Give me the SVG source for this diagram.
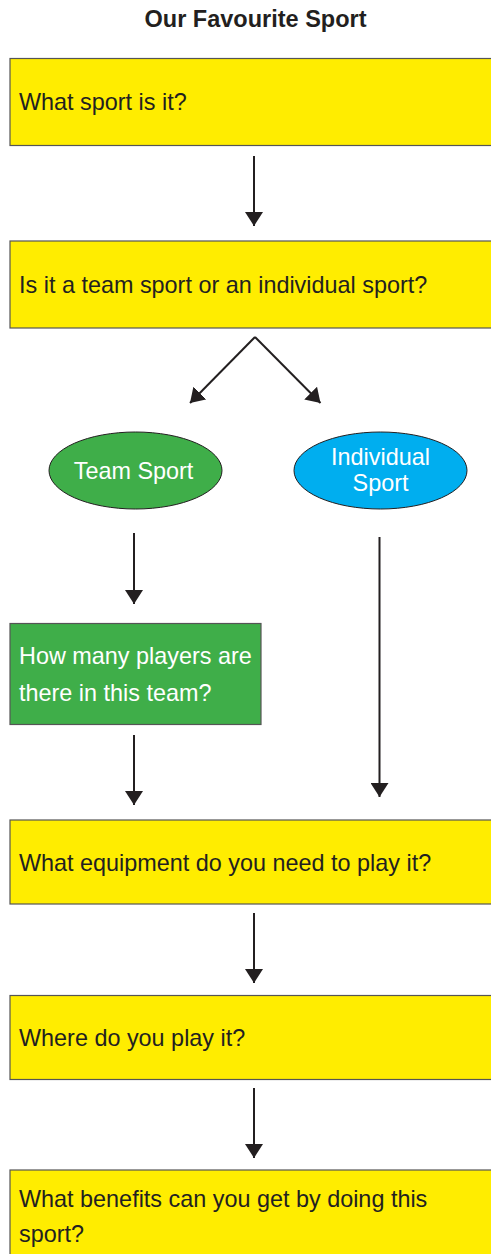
<svg xmlns="http://www.w3.org/2000/svg" width="491" height="1254" viewBox="0 0 491 1254">
  <style>
    .t { font-family: "Liberation Sans", Arial, sans-serif; font-size: 23.4px; fill: #231f20; }
    .w { fill: #ffffff; }
    .title { font-family: "Liberation Sans", Arial, sans-serif; font-size: 23.5px; font-weight: bold; fill: #231f20; }
    .ybox { fill: #ffed00; stroke: #555555; stroke-width: 1.2; }
    .gbox { fill: #3fae49; stroke: #555555; stroke-width: 1.2; }
    .conn { stroke: #231f20; stroke-width: 2; fill: none; marker-end: url(#arr); }
  </style>
  <defs>
    <marker id="arr" markerUnits="userSpaceOnUse" markerWidth="16" markerHeight="18" refX="14" refY="9" orient="auto" viewBox="0 0 16 18">
      <path d="M0,0 L14,9 L0,18 z" fill="#231f20"/>
    </marker>
  </defs>
  <rect width="491" height="1254" fill="#ffffff"/>
  <text class="title" x="255.5" y="27" text-anchor="middle">Our Favourite Sport</text>

  <g id="n1">
    <rect class="ybox" x="10" y="58.5" width="490" height="87"/>
    <text class="t" x="19" y="110">What sport is it?</text>
  </g>
  <g id="n2">
    <rect class="ybox" x="10" y="241" width="490" height="87"/>
    <text class="t" x="19" y="293">Is it a team sport or an individual sport?</text>
  </g>
  <g id="n3">
    <ellipse cx="135.5" cy="470.5" rx="86.5" ry="38.5" fill="#3fae49" stroke="#231f20" stroke-width="1"/>
    <text class="t w" x="133.5" y="479" text-anchor="middle">Team Sport</text>
  </g>
  <g id="n4">
    <ellipse cx="380.5" cy="470.5" rx="86.5" ry="38.5" fill="#00aeef" stroke="#231f20" stroke-width="1"/>
    <text class="t w" x="380.5" y="465" text-anchor="middle">Individual</text>
    <text class="t w" x="380.5" y="491" text-anchor="middle">Sport</text>
  </g>
  <g id="n5">
    <rect class="gbox" x="10" y="623.5" width="251" height="101"/>
    <text class="t w" x="19" y="664">How many players are</text>
    <text class="t w" x="19" y="700.5">there in this team?</text>
  </g>
  <g id="n6">
    <rect class="ybox" x="10" y="820" width="490" height="84"/>
    <text class="t" x="19" y="870.5">What equipment do you need to play it?</text>
  </g>
  <g id="n7">
    <rect class="ybox" x="10" y="995.5" width="490" height="84"/>
    <text class="t" x="19" y="1046">Where do you play it?</text>
  </g>
  <g id="n8">
    <rect class="ybox" x="10" y="1170" width="490" height="100"/>
    <text class="t" x="19" y="1206.5">What benefits can you get by doing this</text>
    <text class="t" x="19" y="1242">sport?</text>
  </g>

  <g id="connectors">
    <line class="conn" x1="254" y1="156" x2="254" y2="226"/>
    <line class="conn" x1="255" y1="337" x2="190" y2="403"/>
    <line class="conn" x1="255" y1="337" x2="320.5" y2="403"/>
    <line class="conn" x1="134" y1="533" x2="134" y2="604"/>
    <line class="conn" x1="379.5" y1="537" x2="379.5" y2="797"/>
    <line class="conn" x1="134" y1="735" x2="134" y2="805"/>
    <line class="conn" x1="254" y1="913" x2="254" y2="983"/>
    <line class="conn" x1="254" y1="1088" x2="254" y2="1158"/>
  </g>
</svg>
